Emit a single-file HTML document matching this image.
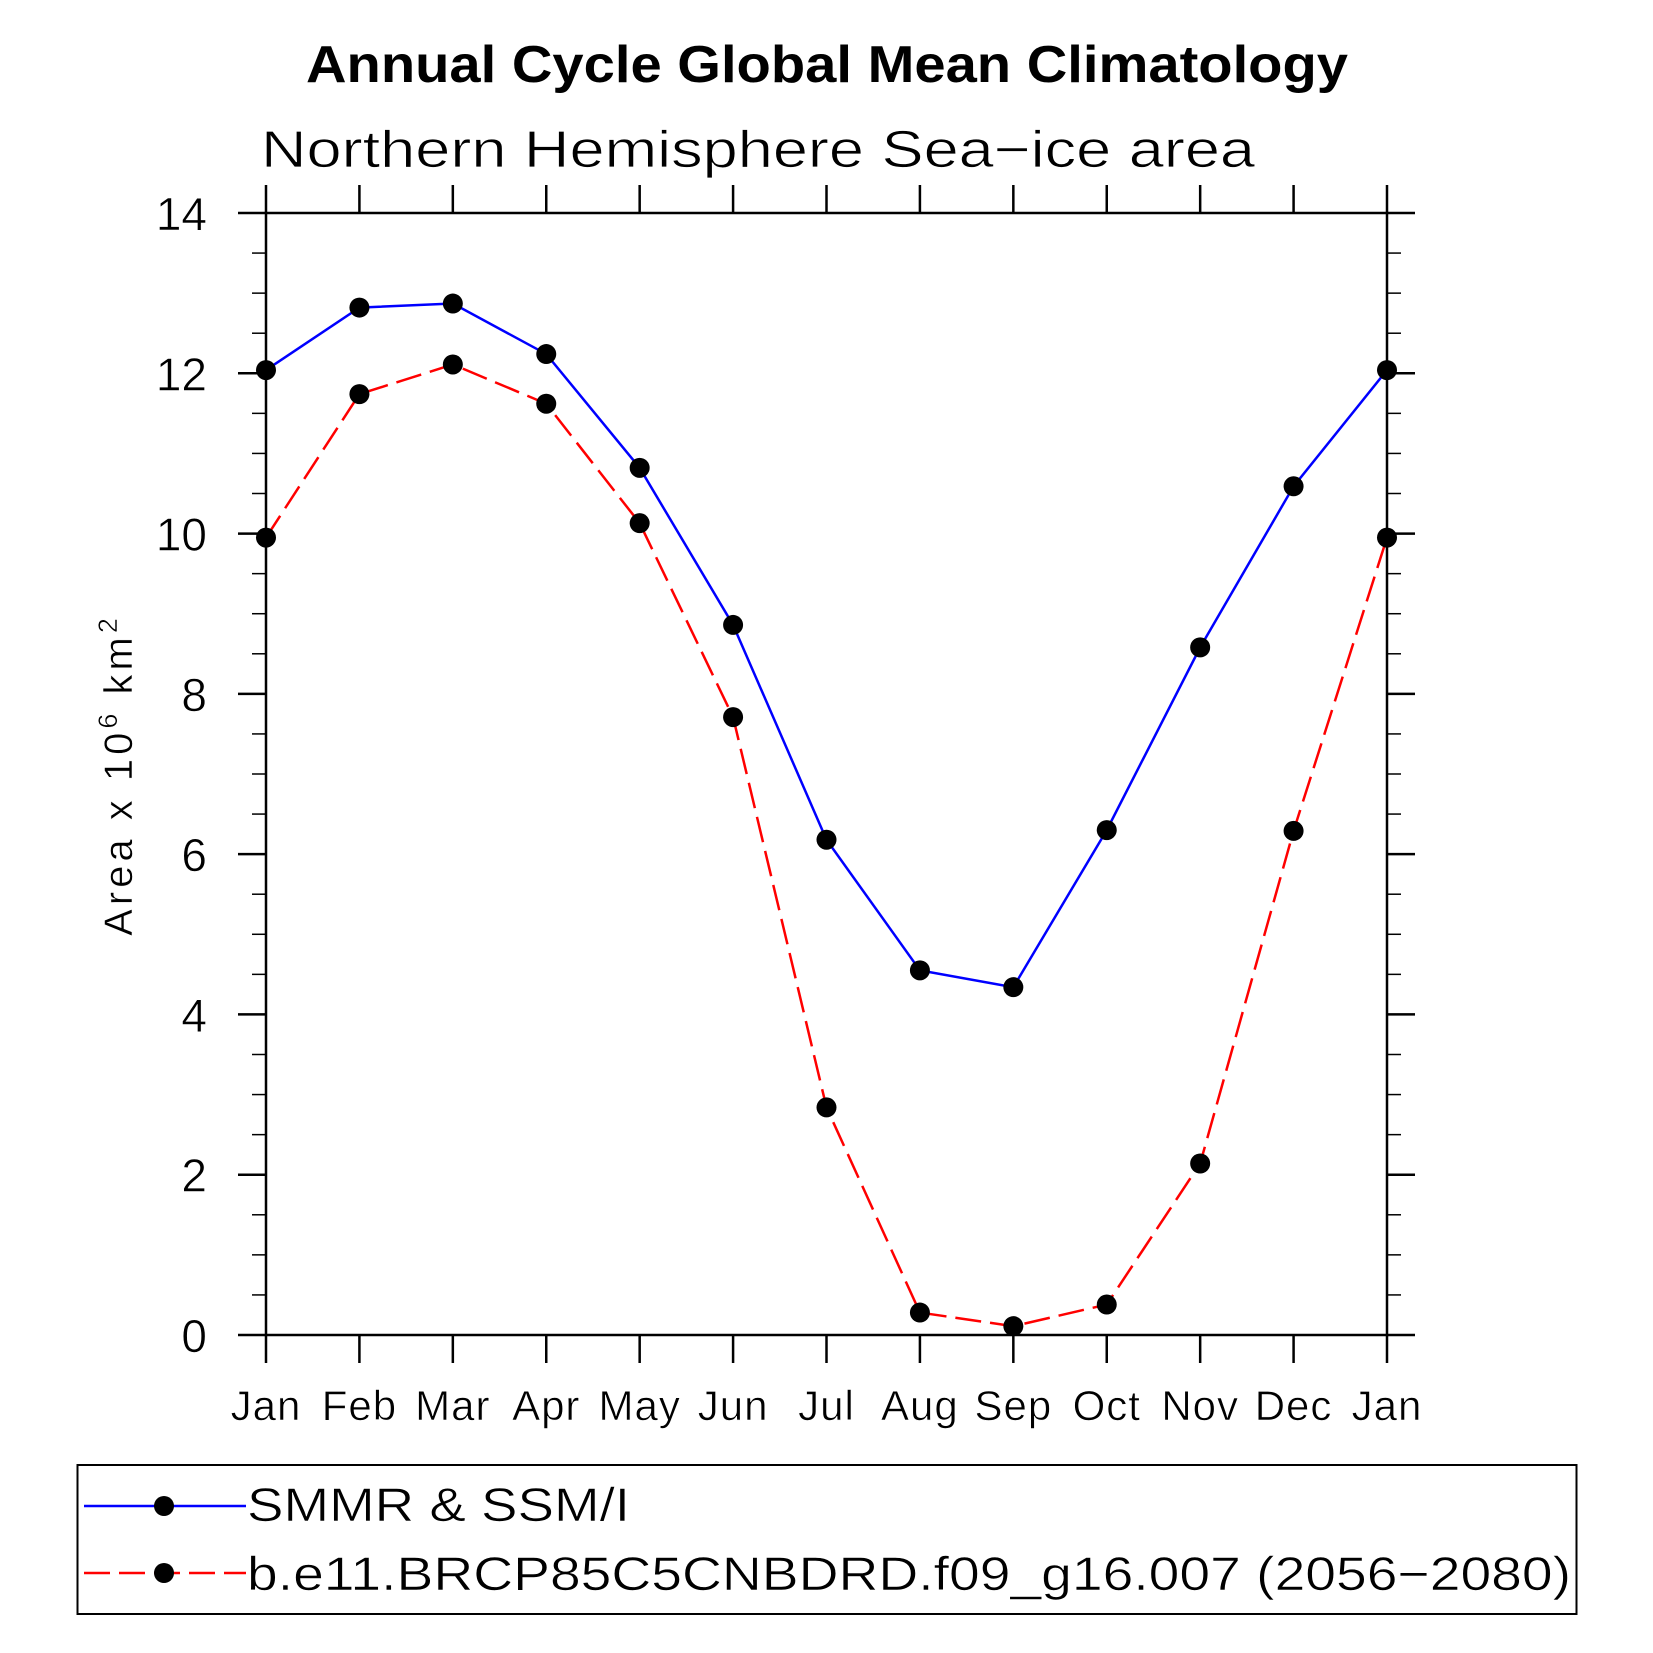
<!DOCTYPE html>
<html><head><meta charset="utf-8"><style>
html,body{margin:0;padding:0;background:#fff}
svg{display:block}
text{font-family:"Liberation Sans",sans-serif}
</style></head><body>
<svg id="chart" width="1653" height="1653" viewBox="0 0 1653 1653" xmlns="http://www.w3.org/2000/svg">
<text x="827" y="82" text-anchor="middle" font-size="52" font-weight="bold" textLength="1042" lengthAdjust="spacingAndGlyphs">Annual Cycle Global Mean Climatology</text>
<text x="261" y="167" font-size="52" font-weight="normal" textLength="994" lengthAdjust="spacingAndGlyphs" stroke="#fff" stroke-width="0.8">Northern Hemisphere Sea−ice area</text>
<g id="axes"></g>
<g id="series"></g>
<text transform="translate(132,775) rotate(-90)" text-anchor="middle" font-size="40" letter-spacing="4" stroke="#fff" stroke-width="0.5">Area x 10<tspan dy="-15" font-size="27">6</tspan><tspan dy="15"> km</tspan><tspan dy="-15" font-size="27">2</tspan></text>
<g>
<rect x="77.5" y="1465" width="1499" height="149" fill="none" stroke="#000" stroke-width="2"/>
<line x1="84" y1="1506" x2="246" y2="1506" stroke="#0000ff" stroke-width="2.5"/>
<circle cx="164" cy="1506" r="10" fill="#000"/>
<text x="247" y="1521" font-size="47" textLength="383" lengthAdjust="spacingAndGlyphs" stroke="#fff" stroke-width="0.6">SMMR &amp; SSM/I</text>
<line x1="84" y1="1573" x2="246" y2="1573" stroke="#ff0000" stroke-width="2.5" stroke-dasharray="26,9"/>
<circle cx="164" cy="1573" r="10" fill="#000"/>
<text x="247" y="1590" font-size="47" textLength="1324" lengthAdjust="spacingAndGlyphs" stroke="#fff" stroke-width="0.6">b.e11.BRCP85C5CNBDRD.f09_g16.007 (2056−2080)</text>
</g>
</svg>
<script>
const months = ["Jan","Feb","Mar","Apr","May","Jun","Jul","Aug","Sep","Oct","Nov","Dec","Jan"];
const obsValues = [12.04,12.82,12.87,12.24,10.82,8.86,6.18,4.55,4.34,6.30,8.58,10.59,12.04];
const modelValues = [9.95,11.74,12.11,11.62,10.13,7.71,2.84,0.28,0.11,0.38,2.14,6.29,9.95];
const yTicks = [0,2,4,6,8,10,12,14];
const yMin = 0, yMax = 14;

const L=266, R=1387, T=213, B=1335;
const NS="http://www.w3.org/2000/svg";
function xs(i){return L+(R-L)*i/(months.length-1);}
function ys(v){return B-(B-T)*(v-yMin)/(yMax-yMin);}
function mk(tag,attrs,parent){const e=document.createElementNS(NS,tag);for(const k in attrs)e.setAttribute(k,attrs[k]);parent.appendChild(e);return e;}
const axes=document.getElementById('axes');
const series=document.getElementById('series');

const frame=mk('rect',{x:L,y:T,width:R-L,height:B-T,fill:'none',stroke:'#000','stroke-width':2.5},axes);



for(let v=yMin; v<=yMax+1e-9; v+=0.5){
  const y=ys(v); const major=Math.abs(v-Math.round(v/2)*2)<1e-9;
  const len=major?28:14;
  const t1=mk('line',{x1:L-len,y1:y,x2:L,y2:y,stroke:'#000','stroke-width':major?2.5:1.5},axes);
  
  
  const t2=mk('line',{x1:R,y1:y,x2:R+len,y2:y,stroke:'#000','stroke-width':major?2.5:1.5},axes);
  
  
}
yTicks.forEach(v=>{
  const t=mk('text',{x:207,y:ys(v)+17,'text-anchor':'end','font-size':46,stroke:'#fff','stroke-width':0.6},axes);
  t.textContent=v;
  
  
});
months.forEach((m,i)=>{
  const x=xs(i);
  const b=mk('line',{x1:x,y1:B,x2:x,y2:B+28,stroke:'#000','stroke-width':2.5},axes);
  
  
  const tp=mk('line',{x1:x,y1:T-28,x2:x,y2:T,stroke:'#000','stroke-width':2.5},axes);
  
  
  const t=mk('text',{x:x,y:1420,'text-anchor':'middle','font-size':42,'letter-spacing':1,stroke:'#fff','stroke-width':0.6},axes);
  t.textContent=m;
  
  
});

function drawSeries(vals,color,dash,name){
  const pts=vals.map((v,i)=>xs(i)+','+ys(v)).join(' ');
  const attrs={points:pts,fill:'none',stroke:color,'stroke-width':2.5};
  if(dash)attrs['stroke-dasharray']=dash;
  const pl=mk('polyline',attrs,series);
  
  
  vals.forEach((v,i)=>{
    const c=mk('circle',{cx:xs(i),cy:ys(v),r:10,fill:'#000'},series);
    
    
  });
}
drawSeries(obsValues,'#0000ff',null,'obs');
drawSeries(modelValues,'#ff0000','26,9','model');
</script>
</body></html>
